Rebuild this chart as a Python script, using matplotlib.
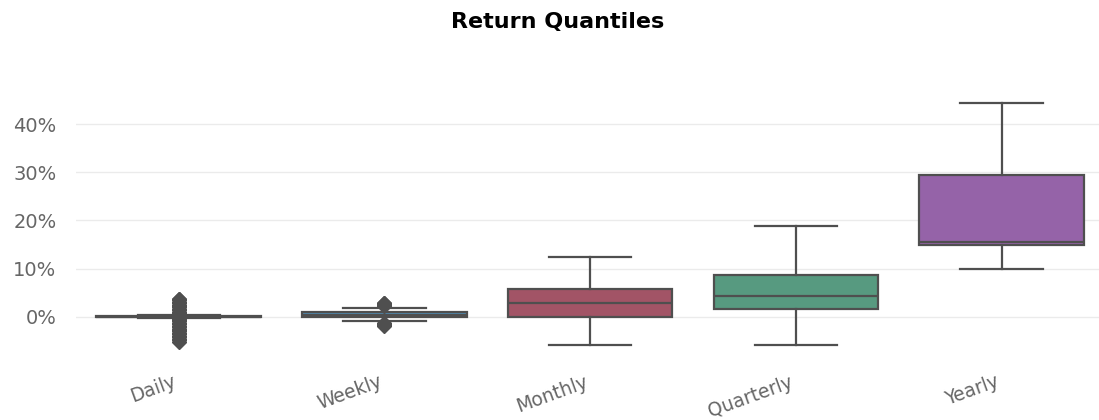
import matplotlib
matplotlib.use("Agg")
import matplotlib.pyplot as plt
from matplotlib.ticker import FuncFormatter

plt.rcParams['font.family'] = ['DejaVu Sans']

# ---- data (fractions) ----
categories = ["Daily", "Weekly", "Monthly", "Quarterly", "Yearly"]
whislo = [-0.003, -0.010, -0.059, -0.059, 0.100]
q1 = [-0.001, -0.001, -0.001, 0.016, 0.149]
med = [0.000, 0.004, 0.029, 0.043, 0.156]
q3 = [0.001, 0.009, 0.057, 0.087, 0.294]
whishi = [0.003, 0.017, 0.123, 0.188, 0.444]
fliers_daily = [-0.052, -0.049, -0.046, -0.043, -0.040, -0.037, -0.034, -0.031,
                -0.028, -0.025, -0.022, -0.019, -0.016, -0.013, -0.010, -0.007,
                -0.005, 0.005, 0.007, 0.010, 0.013, 0.016, 0.019, 0.022, 0.025,
                0.028, 0.031, 0.034, 0.036, 0.037]
fliers_weekly = [0.022, 0.024, 0.026, 0.028, 0.029, -0.014, -0.016, -0.018, -0.019]
fliers_monthly = []
fliers_quarterly = []
fliers_yearly = []
yticks = [0.0, 0.1, 0.2, 0.3, 0.4]

box_colors = ["#e8d48e", "#4f8ab0", "#a25466", "#579a80", "#9563a8"]
line_color = "#4f4f4f"

fliers = [fliers_daily, fliers_weekly, fliers_monthly, fliers_quarterly, fliers_yearly]
stats = []
for i, c in enumerate(categories):
    stats.append(dict(label=c, whislo=whislo[i], q1=q1[i], med=med[i],
                      q3=q3[i], whishi=whishi[i], fliers=fliers[i]))

fig = plt.figure(figsize=(10.99, 4.20), dpi=100)
ax = fig.add_axes([0.069, 0.15, 0.936, 0.633])

bp = ax.bxp(stats, positions=range(len(categories)), widths=0.8,
            patch_artist=True, showfliers=True,
            boxprops=dict(edgecolor=line_color, linewidth=1.6),
            whiskerprops=dict(color=line_color, linewidth=1.6),
            capprops=dict(color=line_color, linewidth=1.6),
            medianprops=dict(color=line_color, linewidth=1.6),
            flierprops=dict(marker='D', markersize=7, markerfacecolor=line_color,
                            markeredgecolor=line_color, linestyle='none'),
            capwidths=0.4)
for patch, col in zip(bp['boxes'], box_colors):
    patch.set_facecolor(col)
    patch.set_zorder(2)

ax.set_xlim(-0.5, 4.5)
ax.set_yticks(yticks)
ax.yaxis.set_major_formatter(FuncFormatter(lambda v, p: f"{v:.0%}"))
ax.grid(axis='y', color='#ebebeb', linewidth=1.0, zorder=0)
ax.set_axisbelow(True)
for s in ax.spines.values():
    s.set_visible(False)
ax.tick_params(axis='both', length=0, colors='#666666', labelsize=13.5)
ax.tick_params(axis='y', labelsize=14, pad=14)
ax.set_xticks(range(len(categories)))
ax.set_xticklabels(categories, rotation=20, ha='right', rotation_mode='default')
ax.tick_params(axis='x', pad=11)

fig.suptitle("Return Quantiles", fontsize=16, fontweight='bold', y=0.972, x=0.507)

fig.savefig("out.png", dpi=100, facecolor='white')
